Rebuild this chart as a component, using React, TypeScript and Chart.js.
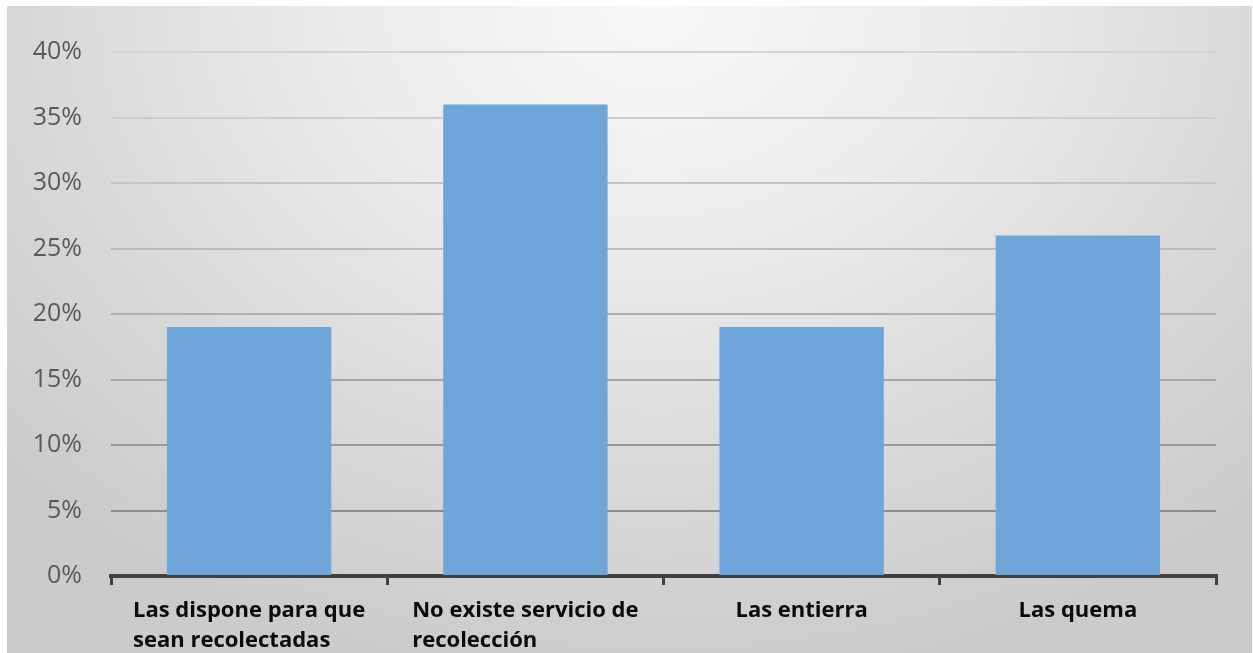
import React, { useEffect, useRef } from 'react';
import { Chart, registerables } from 'chart.js';

Chart.register(...registerables);

const categories: string[][] = [
  ['Las dispone para que', 'sean recolectadas'],
  ['No existe servicio de', 'recolección'],
  ['Las entierra'],
  ['Las quema'],
];
const values: number[] = [19, 36, 19, 26];
const yMin = 0;
const yMax = 40;
const yStep = 5;

const gridShades = ['#8c8c8c', '#989898', '#a4a4a4', '#b0b0b0', '#bcbcbc', '#c6c6c6', '#cecece', '#d4d4d4'];

const labelPlugin = {
  id: 'leftAlignedLabels',
  afterDraw(chart: any) {
    const ctx = chart.ctx;
    const xs = chart.scales.x;
    ctx.save();
    ctx.font = 'bold 22px "Open Sans"';
    ctx.fillStyle = '#0a0a0a';
    ctx.textAlign = 'left';
    ctx.textBaseline = 'alphabetic';
    categories.forEach((lines, i) => {
      const cx = xs.getPixelForTick(i);
      const w = Math.max(...lines.map((l) => ctx.measureText(l).width));
      lines.forEach((l, j) => {
        ctx.fillText(l, cx - w / 2, xs.top + 41 + j * 30);
      });
    });
    ctx.restore();
  },
};

export default function App() {
  const ref = useRef<HTMLCanvasElement | null>(null);
  useEffect(() => {
    if (!ref.current) return;
    const chart = new Chart(ref.current, {
      type: 'bar',
      data: {
        labels: categories.map((c) => c.join(' ')),
        datasets: [
          {
            data: values,
            backgroundColor: '#6fa6d9',
            borderWidth: 0,
            categoryPercentage: 1,
            barPercentage: 0.595,
          },
        ],
      },
      options: {
        animation: false,
        responsive: true,
        maintainAspectRatio: false,
        layout: { padding: { top: 46, right: 36, left: 0, bottom: 0 } },
        plugins: {
          legend: { display: false },
          tooltip: { enabled: false },
        },
        scales: {
          x: {
            ticks: { display: false },
            grid: {
              display: true,
              offset: true,
              drawOnChartArea: false,
              drawTicks: true,
              tickLength: 9,
              color: '#404040',
              lineWidth: 3,
            },
            border: { display: true, color: '#404040', width: 4 },
            afterFit: (s: any) => {
              s.height = 77;
            },
          },
          y: {
            min: yMin,
            max: yMax,
            ticks: {
              stepSize: yStep,
              padding: 29,
              color: '#595959',
              font: { family: '"Open Sans"', size: 25 },
              callback: (v: any) => v + '%',
            },
            grid: {
              drawTicks: false,
              lineWidth: 2,
              color: (c: any) => {
                const idx = Math.round((c.tick?.value ?? 0) / yStep);
                if (idx <= 0) return 'rgba(0,0,0,0)';
                return gridShades[Math.min(idx - 1, gridShades.length - 1)];
              },
            },
            border: { display: false },
            afterFit: (s: any) => {
              s.width = 104;
            },
          },
        },
      },
      plugins: [labelPlugin],
    });
    return () => chart.destroy();
  }, []);

  return (
    <div style={{ position: 'absolute', left: 0, top: 0, width: 1253, height: 653, background: '#ffffff', overflow: 'hidden' }}>
      <div
        style={{
          position: 'absolute',
          left: 7,
          top: 6,
          width: 1245,
          height: 647,
          background:
            'radial-gradient(ellipse 70% 105% at 52% 0%, #f8f8f8 0%, #ececec 35%, #d9d9d9 70%, #cbcbcb 100%)',
        }}
      >
        <canvas ref={ref} />
      </div>
    </div>
  );
}
